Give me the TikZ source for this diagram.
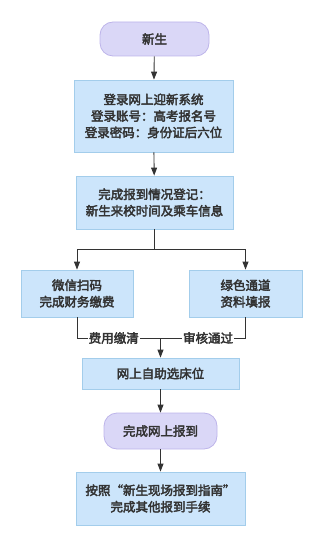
\documentclass[tikz,border=0pt]{standalone}
\usepackage{fontspec}
\newfontfamily\cjk[FakeBold=3]{Noto Sans CJK SC}
\usetikzlibrary{arrows.meta,positioning,calc}
\definecolor{boxfill}{HTML}{CCE5FB}
\definecolor{boxline}{HTML}{A3CDEB}
\definecolor{pillfill}{HTML}{DAD7F7}
\definecolor{pillline}{HTML}{BDB4EA}
\definecolor{ink}{HTML}{333333}

\begin{document}
\begin{tikzpicture}[x=1pt,y=-1pt,>={Triangle[width=6pt,length=8pt]},
 font=\cjk\fontsize{12.5}{16.5}\selectfont,text=ink,
 box/.style={draw=boxline,fill=boxfill,align=center,inner sep=0pt,line width=0.8pt},
 pill/.style={draw=pillline,fill=pillfill,rounded corners=13pt,align=center,inner sep=0pt,line width=0.8pt},
 lbl/.style={fill=white,inner sep=1pt},
 flow/.style={->,draw=ink,line width=0.9pt}]
\useasboundingbox (0,0) rectangle (323,548);
\node[pill,minimum width=109pt,minimum height=34pt] (xs) at (154.5,39) {新生};
\node[box,minimum width=159pt,minimum height=72pt] (login) at (153.5,116) {登录网上迎新系统\\登录账号：高考报名号\\登录密码：身份证后六位};
\node[box,minimum width=157pt,minimum height=53pt] (reg) at (154.5,202.5) {完成报到情况登记：\\新生来校时间及乘车信息};
\node[box,minimum width=112pt,minimum height=47pt] (pay) at (77,293.5) {微信扫码\\完成财务缴费};
\node[box,minimum width=113pt,minimum height=47pt] (green) at (245.5,293.5) {绿色通道\\资料填报};
\node[box,minimum width=157pt,minimum height=31pt] (bed) at (160.5,373.5) {网上自助选床位};
\node[pill,minimum width=113pt,minimum height=36pt] (done) at (160.5,431) {完成网上报到};
\node[box,minimum width=169pt,minimum height=53pt] (rest) at (160.5,498.5) {按照“新生现场报到指南”\\完成其他报到手续};
\coordinate (split) at (reg.south|-0,249);
\coordinate (join) at (bed.north|-0,338);
\draw[flow] (xs) -- (login);
\draw[flow] (login) -- (reg);
\draw[ink,line width=0.9pt] (reg) -- (split);
\draw[flow] (split) -| (pay);
\draw[flow] (split) -| (green);
\draw[ink,line width=0.9pt] (pay) |- node[lbl,pos=0.72]{费用缴清} (join);
\draw[ink,line width=0.9pt] (green) |- node[lbl,pos=0.72]{审核通过} (join);
\draw[flow] (join) -- (bed);
\draw[flow] (bed) -- (done);
\draw[flow] (done) -- (rest);
\end{tikzpicture}
\end{document}
